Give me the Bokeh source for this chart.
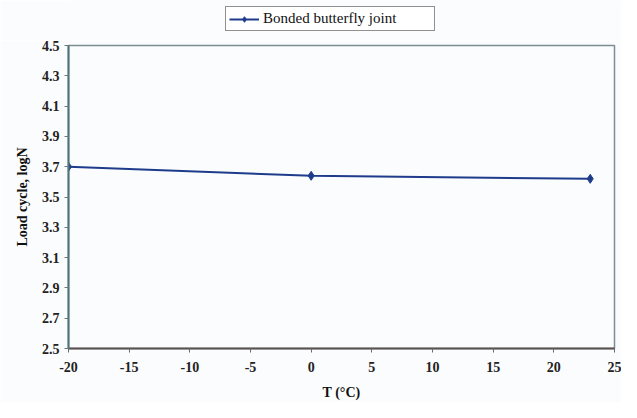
from bokeh.plotting import figure
from bokeh.layouts import column
from bokeh.models import Range1d, FixedTicker, Legend, LegendItem, NumeralTickFormatter
from bokeh.embed import file_html
from bokeh.resources import INLINE

temps = [-20, 0, 23]
log_n = [3.70, 3.64, 3.62]
series_name = "Bonded butterfly joint"
x_ticks = [-20, -15, -10, -5, 0, 5, 10, 15, 20, 25]
y_ticks = [2.5, 2.7, 2.9, 3.1, 3.3, 3.5, 3.7, 3.9, 4.1, 4.3, 4.5]

FONT = "Liberation Serif"
BG = "#fbfcfd"
NAVY = "#1f3c8c"
LINE_W = 2
MARK = 9

# --- legend strip on top (its renderers hold the series but lie outside its ranges) ---
leg = figure(width=621, height=40, output_backend="svg", toolbar_location=None,
             x_range=Range1d(100, 101), y_range=Range1d(100, 101),
             min_border_left=68, min_border_right=7, min_border_top=0, min_border_bottom=0)
leg.axis.visible = False
leg.grid.visible = False
leg.outline_line_color = None
leg.background_fill_color = BG
leg.border_fill_color = BG
lr1 = leg.line(temps, log_n, line_color=NAVY, line_width=LINE_W)
lr2 = leg.scatter(temps, log_n, marker="diamond", size=MARK - 1, color=NAVY)
legend = Legend(items=[LegendItem(label=series_name, renderers=[lr1, lr2])],
                location=(157, 9), orientation="horizontal",
                label_text_font=FONT, label_text_font_size="15px", label_text_color="#111111",
                border_line_color="#222222", border_line_width=1.5,
                background_fill_color="white", background_fill_alpha=1.0,
                padding=3, margin=0, spacing=0, glyph_width=30, glyph_height=14,
                label_standoff=4, label_height=14, label_width=168)
leg.add_layout(legend, "center")

# --- main chart ---
p = figure(width=621, height=362, output_backend="svg", toolbar_location=None,
           x_range=Range1d(-20, 25), y_range=Range1d(2.5, 4.5),
           min_border_left=68, min_border_top=5, min_border_bottom=54, min_border_right=7)
p.background_fill_color = BG
p.border_fill_color = BG
p.outline_line_color = "#7d8d92"
p.outline_line_width = 1.5
p.xgrid.visible = False
p.ygrid.visible = False

p.line(temps, log_n, line_color=NAVY, line_width=LINE_W)
p.scatter(temps, log_n, marker="diamond", size=MARK, color=NAVY)

for ax in (p.xaxis[0], p.yaxis[0]):
    ax.major_label_text_font = FONT
    ax.major_label_text_font_style = "bold"
    ax.major_label_text_font_size = "14px"
    ax.major_label_text_color = "#222222"
    ax.axis_label_text_font = FONT
    ax.axis_label_text_font_style = "bold"
    ax.axis_label_text_font_size = "14px"
    ax.axis_label_text_color = "#111111"
    ax.minor_tick_line_color = None
    ax.major_tick_in = 0
    ax.major_tick_out = 4
    ax.axis_line_width = 2

p.xaxis.ticker = FixedTicker(ticks=x_ticks)
p.yaxis.ticker = FixedTicker(ticks=y_ticks)
p.xaxis.formatter = NumeralTickFormatter(format="0")
p.yaxis.formatter = NumeralTickFormatter(format="0.0")
p.xaxis.axis_label = "T (°C)"
p.yaxis.axis_label = "Load cycle, logN"
p.xaxis.axis_line_color = "#5a5050"
p.xaxis.major_tick_line_color = "#6a6a6a"
p.yaxis.axis_line_color = "#4d7478"
p.yaxis.major_tick_line_color = "#6a7a7c"
p.xaxis.major_label_standoff = 9
p.yaxis.major_label_standoff = 5
p.xaxis.axis_label_standoff = 10
p.yaxis.axis_label_standoff = 9

layout = column(leg, p, spacing=0)
open("out.html", "w").write(file_html(layout, INLINE))
